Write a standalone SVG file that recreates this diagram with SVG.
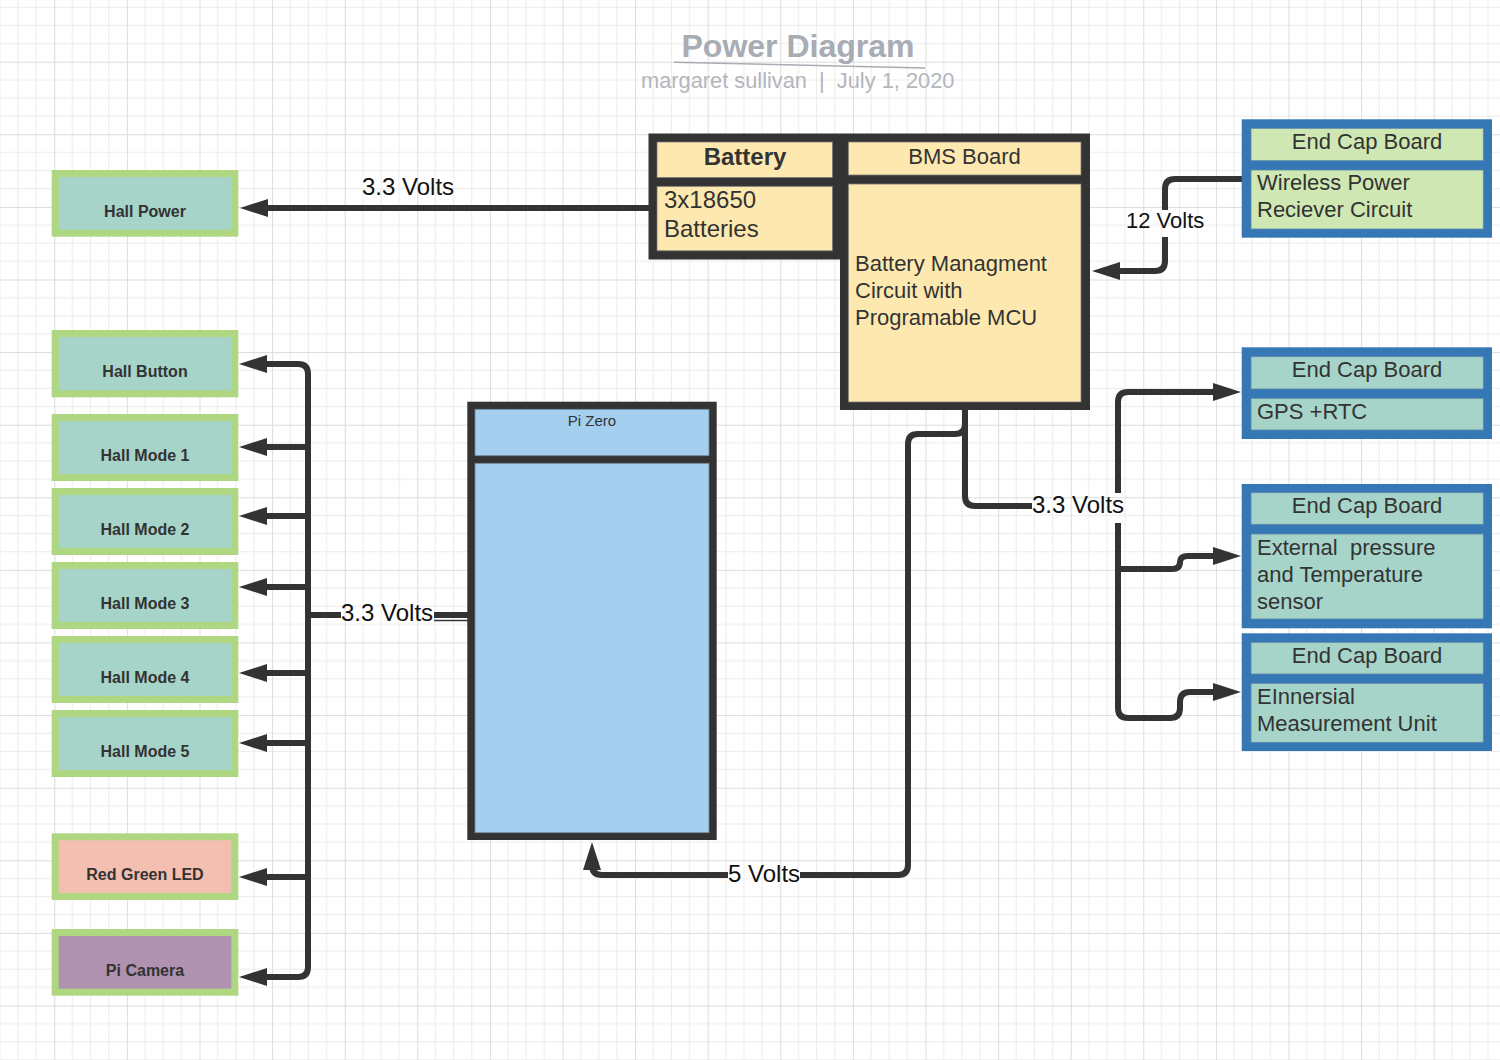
<svg xmlns="http://www.w3.org/2000/svg" width="1500" height="1060" viewBox="0 0 1500 1060">
<defs>
<pattern id="grid" patternUnits="userSpaceOnUse" x="54.3" y="61.7" width="72.6" height="72.6">
<path d="M18.15 0V72.6M36.3 0V72.6M54.45 0V72.6M0 18.15H72.6M0 36.3H72.6M0 54.45H72.6" stroke="#ebebeb" stroke-width="1" fill="none"/>
<path d="M0.5 0V72.6M0 0.5H72.6" stroke="#dcdcdc" stroke-width="1" fill="none"/>
</pattern>
<marker id="arr" markerUnits="userSpaceOnUse" markerWidth="28" markerHeight="18" refX="8" refY="9" orient="auto" viewBox="0 0 28 18">
<path d="M0,0 L28,9 L0,18 Z" fill="#333"/>
</marker>
</defs>
<style>
.lbl{font-family:"Liberation Sans",Arial,sans-serif;fill:#333}
.hall{fill:#a6d4c9;stroke:#afd681;stroke-width:7}
.hallt{font-family:"Liberation Sans",Arial,sans-serif;font-weight:bold;font-size:16px;fill:#333;text-anchor:middle}
.conn{fill:none;stroke:#333;stroke-width:6;stroke-linejoin:round}
.volt{font-family:"Liberation Sans",Arial,sans-serif;font-size:24px;fill:#111}
.ecb{fill:#3578b5}
.ecin{fill:#a6d4c9;stroke:#5d86a8;stroke-width:0.8}
.ecin2{fill:#cfe7b3;stroke:#5d86a8;stroke-width:0.8}
.t22{font-family:"Liberation Sans",Arial,sans-serif;font-size:22px;fill:#333}
.mid{text-anchor:middle}
</style>
<rect width="1500" height="1060" fill="#fff"/>
<rect width="1500" height="1060" fill="url(#grid)"/>

<g id="title">
<text x="798" y="57" text-anchor="middle" font-family="Liberation Sans, Arial, sans-serif" font-weight="bold" font-size="32" fill="#a8acb4">Power Diagram</text>
<line x1="674" y1="62.3" x2="925" y2="68" stroke="#a8acb4" stroke-width="1.5"/>
<text x="641" y="87.5" font-family="Liberation Sans, Arial, sans-serif" font-size="21.8" fill="#b3b6bb" style="white-space:pre">margaret sullivan  |  July 1, 2020</text>
</g>

<g id="connectors">
<path class="conn" d="M649,208 H260" marker-end="url(#arr)"/>
<path class="conn" d="M308,616 V374 Q308,364 298,364 H259" marker-end="url(#arr)"/>
<path class="conn" d="M308,616 V967 Q308,977 298,977 H259" marker-end="url(#arr)"/>
<path class="conn" d="M308,447 H259" marker-end="url(#arr)"/>
<path class="conn" d="M308,516 H259" marker-end="url(#arr)"/>
<path class="conn" d="M308,587 H259" marker-end="url(#arr)"/>
<path class="conn" d="M308,673 H259" marker-end="url(#arr)"/>
<path class="conn" d="M308,743 H259" marker-end="url(#arr)"/>
<path class="conn" d="M308,877 H259" marker-end="url(#arr)"/>
<path class="conn" d="M308,615 H341"/>
<path class="conn" d="M434,615 H470"/>
<line x1="434" y1="620.5" x2="470" y2="620.5" stroke="#333" stroke-width="1.5"/>
<text class="volt" x="341" y="621">3.3 Volts</text>
<text class="volt" x="362" y="195">3.3 Volts</text>

<path class="conn" d="M965,408 V424 Q965,434 955,434 H918 Q908,434 908,444 V865 Q908,875 898,875 H800"/>
<path class="conn" d="M728,875 H602 Q592,875 592,865 V862" marker-end="url(#arr)"/>
<text class="volt" x="728" y="882">5 Volts</text>

<path class="conn" d="M965,424 V496 Q965,506 975,506 H1032"/>
<text class="volt" x="1032" y="513">3.3 Volts</text>
<path class="conn" d="M1118,493 V402 Q1118,392 1128,392 H1221" marker-end="url(#arr)"/>
<path class="conn" d="M1118,523 V708 Q1118,718 1128,718 H1170 Q1180,718 1180,708 V702 Q1180,692 1190,692 H1221" marker-end="url(#arr)"/>
<path class="conn" d="M1118,569 H1172 Q1180,569 1180,562 Q1180,556 1188,556 H1221" marker-end="url(#arr)"/>

<path class="conn" d="M1243,179 H1175 Q1165,179 1165,189 V210"/>
<path class="conn" d="M1165,237 V261 Q1165,271 1155,271 H1112" marker-end="url(#arr)"/>
<text x="1126" y="228" font-family="Liberation Sans, Arial, sans-serif" font-size="22" fill="#111">12 Volts</text>
</g>

<g id="battery">
<rect x="648.5" y="133.5" width="192" height="126" fill="#333"/>
<rect x="657" y="142" width="175.5" height="35.5" fill="#fde9b0" stroke="#777" stroke-width="0.8"/>
<rect x="657" y="186.3" width="175.5" height="64.5" fill="#fde9b0" stroke="#777" stroke-width="0.8"/>
<text class="lbl mid" x="745" y="164.5" font-size="24" font-weight="bold">Battery</text>
<text class="lbl" x="664" y="208" font-size="24">3x18650</text>
<text class="lbl" x="664" y="237" font-size="24">Batteries</text>
</g>

<g id="bms">
<rect x="840" y="133.5" width="250" height="276.5" fill="#333"/>
<rect x="848.3" y="142" width="232.7" height="33" fill="#fde9b0" stroke="#777" stroke-width="0.8"/>
<rect x="848.3" y="184" width="232.7" height="218" fill="#fde9b0" stroke="#777" stroke-width="0.8"/>
<text class="t22 mid" x="964.5" y="163.5">BMS Board</text>
<text class="t22" x="855" y="271">Battery Managment</text>
<text class="t22" x="855" y="298">Circuit with</text>
<text class="t22" x="855" y="325">Programable MCU</text>
</g>

<g id="pizero">
<rect x="467.3" y="401.7" width="249.4" height="438.3" fill="#333"/>
<rect x="475" y="409.3" width="234" height="46.4" fill="#a4cfee" stroke="#6f8796" stroke-width="0.8"/>
<rect x="475" y="463.3" width="234" height="369.4" fill="#a4cfee" stroke="#6f8796" stroke-width="0.8"/>
<text class="lbl mid" x="592" y="426" font-size="15">Pi Zero</text>
</g>

<g id="hall-power"><rect class="hall" x="55.2" y="173.5" width="179.6" height="59.7"/><text class="hallt" x="145" y="217">Hall Power</text></g>
<g id="hall-button"><rect class="hall" x="55.2" y="333.5" width="179.6" height="60.3"/><text class="hallt" x="145" y="377">Hall Button</text></g>
<g id="hall-mode-1"><rect class="hall" x="55.2" y="417.5" width="179.6" height="60"/><text class="hallt" x="145" y="461">Hall Mode 1</text></g>
<g id="hall-mode-2"><rect class="hall" x="55.2" y="491.5" width="179.6" height="60"/><text class="hallt" x="145" y="535">Hall Mode 2</text></g>
<g id="hall-mode-3"><rect class="hall" x="55.2" y="565.5" width="179.6" height="60"/><text class="hallt" x="145" y="609">Hall Mode 3</text></g>
<g id="hall-mode-4"><rect class="hall" x="55.2" y="639.5" width="179.6" height="60"/><text class="hallt" x="145" y="683">Hall Mode 4</text></g>
<g id="hall-mode-5"><rect class="hall" x="55.2" y="713.5" width="179.6" height="60"/><text class="hallt" x="145" y="757">Hall Mode 5</text></g>
<g id="red-green-led"><rect class="hall" x="55.2" y="836.8" width="179.6" height="59.7" style="fill:#f4beb0"/><text class="hallt" x="145" y="880">Red Green LED</text></g>
<g id="pi-camera"><rect class="hall" x="55.2" y="932.5" width="179.6" height="59.7" style="fill:#ae92b0"/><text class="hallt" x="145" y="976">Pi Camera</text></g>

<g id="endcap-wireless">
<rect class="ecb" x="1241.7" y="119.3" width="250.3" height="118.4"/>
<rect class="ecin2" x="1251" y="128.3" width="232.3" height="32.4"/>
<rect class="ecin2" x="1251" y="170" width="232.3" height="59"/>
<text class="t22 mid" x="1367" y="149">End Cap Board</text>
<text class="t22" x="1257" y="190">Wireless Power</text>
<text class="t22" x="1257" y="217">Reciever Circuit</text>
</g>

<g id="endcap-gps">
<rect class="ecb" x="1241.7" y="347.3" width="250.3" height="91.7"/>
<rect class="ecin" x="1251" y="356.7" width="232.3" height="32.3"/>
<rect class="ecin" x="1251" y="398.3" width="232.3" height="31.7"/>
<text class="t22 mid" x="1367" y="377">End Cap Board</text>
<text class="t22" x="1257" y="418.5">GPS +RTC</text>
</g>

<g id="endcap-pressure">
<rect class="ecb" x="1241.7" y="484" width="250.3" height="144.3"/>
<rect class="ecin" x="1251" y="492.7" width="232.3" height="31.6"/>
<rect class="ecin" x="1251" y="534" width="232.3" height="85"/>
<text class="t22 mid" x="1367" y="513">End Cap Board</text>
<text class="t22" x="1257" y="555" style="white-space:pre">External  pressure</text>
<text class="t22" x="1257" y="582">and Temperature</text>
<text class="t22" x="1257" y="608.5">sensor</text>
</g>

<g id="endcap-imu">
<rect class="ecb" x="1241.7" y="633.3" width="250.3" height="117.7"/>
<rect class="ecin" x="1251" y="642.3" width="232.3" height="31.7"/>
<rect class="ecin" x="1251" y="683.3" width="232.3" height="59"/>
<text class="t22 mid" x="1367" y="663">End Cap Board</text>
<text class="t22" x="1257" y="703.5">EInnersial</text>
<text class="t22" x="1257" y="731">Measurement Unit</text>
</g>
</svg>
